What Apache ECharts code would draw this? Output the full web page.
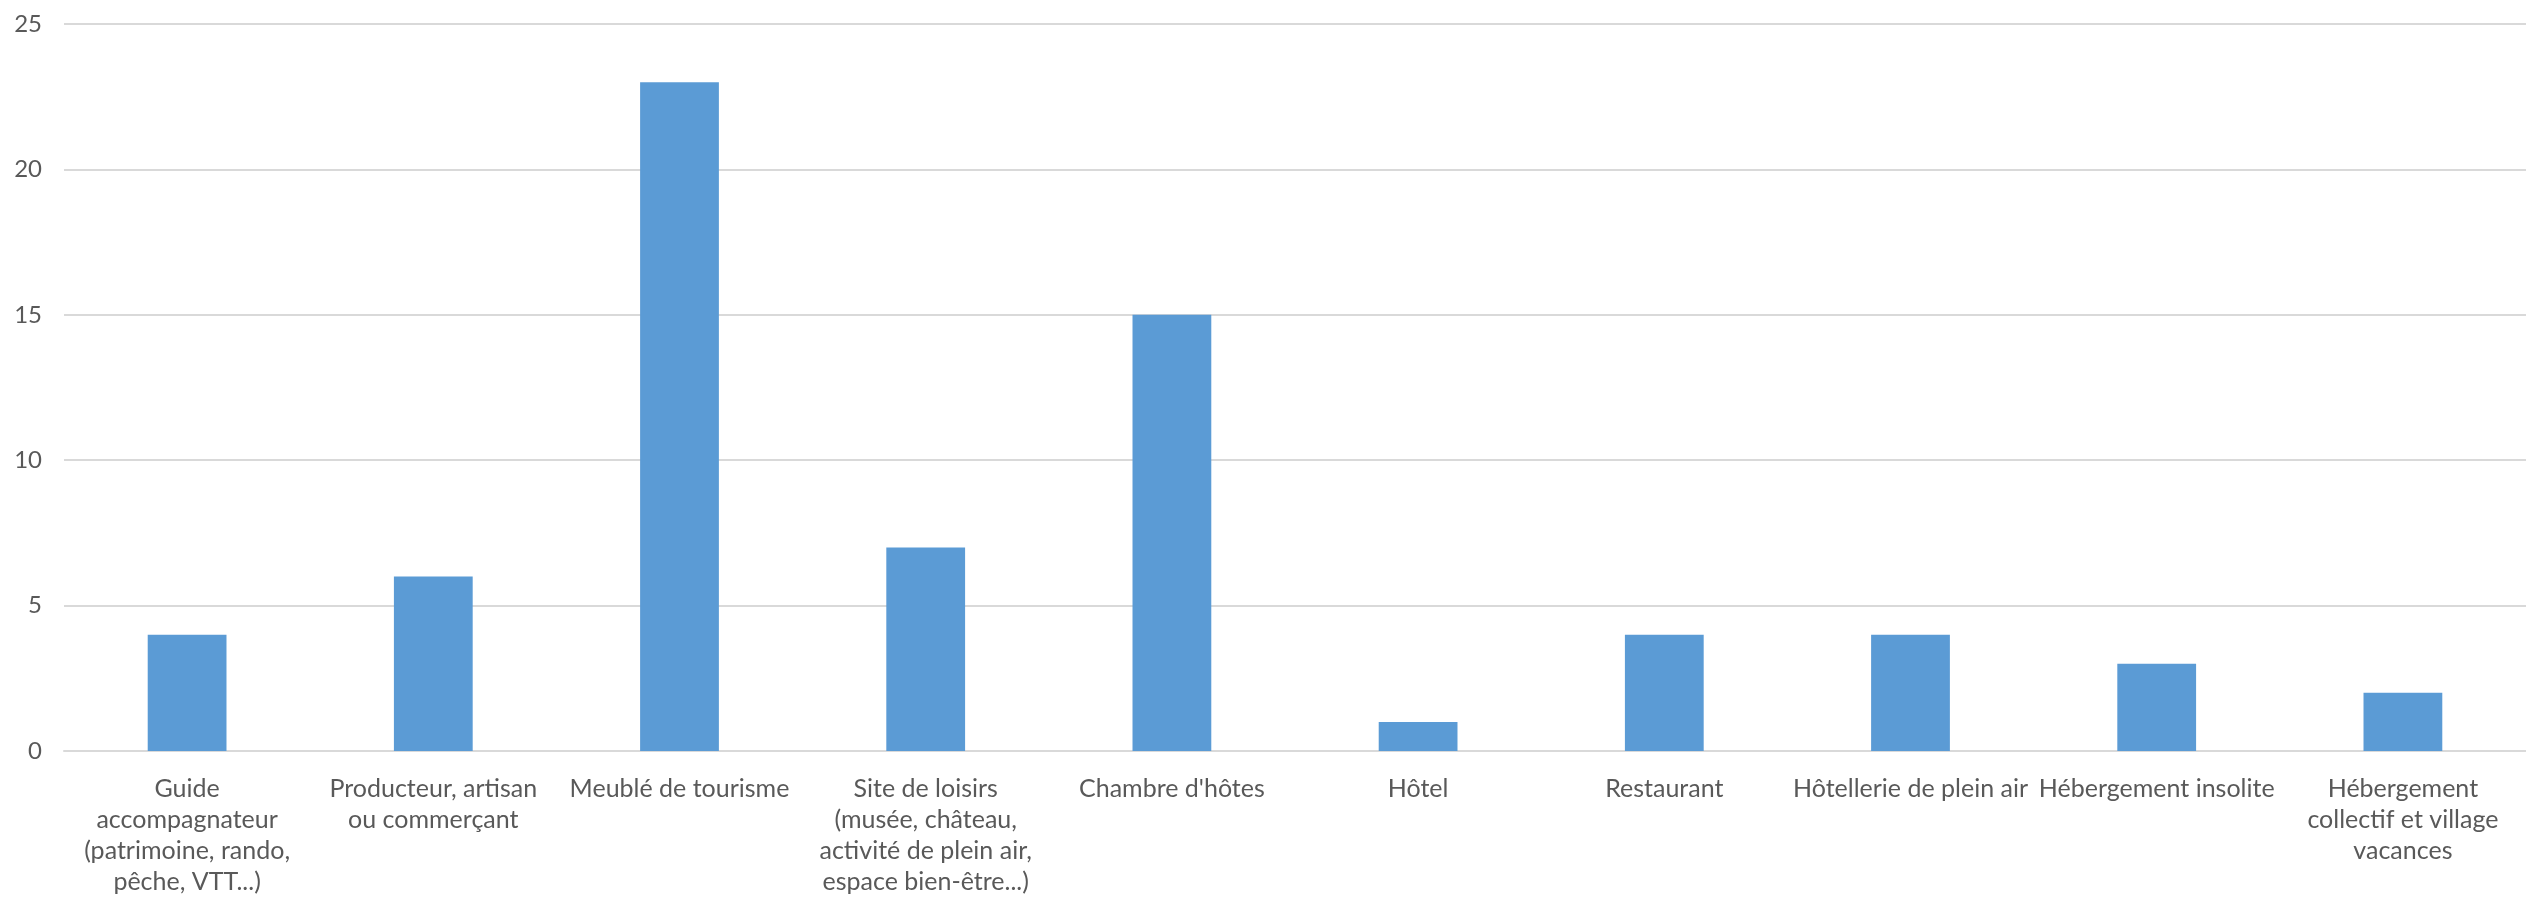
<!DOCTYPE html>
<html>
<head>
<meta charset="utf-8">
<script src="https://cdn.jsdelivr.net/npm/echarts@6/dist/echarts.min.js"></script>
<style>
html,body{margin:0;padding:0;background:#fff;overflow:hidden;}
#chart{width:2526px;height:905px;}
</style>
</head>
<body>
<div id="chart"></div>
<script>
const categories = [
  "Guide\naccompagnateur\n(patrimoine, rando,\npêche, VTT...)",
  "Producteur, artisan\nou commerçant",
  "Meublé de tourisme",
  "Site de loisirs\n(musée, château,\nactivité de plein air,\nespace bien-être...)",
  "Chambre d'hôtes",
  "Hôtel",
  "Restaurant",
  "Hôtellerie de plein air",
  "Hébergement insolite",
  "Hébergement\ncollectif et village\nvacances"
];
const values = [4, 6, 23, 7, 15, 1, 4, 4, 3, 2];
const yTicks = [0, 5, 10, 15, 20, 25];

const FONT = 'Lato';
const TEXT = '#595959';
const chart = echarts.init(document.getElementById('chart'));
chart.setOption({
  animation: false,
  grid: { left: 64, width: 2467, top: 24, bottom: 154, containLabel: false },
  xAxis: {
    type: 'category',
    data: categories,
    axisLine: { show: true, lineStyle: { color: '#d9d9d9', width: 2 } },
    axisTick: { show: false },
    axisLabel: {
      interval: 0,
      color: TEXT,
      fontFamily: FONT,
      fontSize: 25,
      lineHeight: 31,
      margin: 22,
      align: 'center'
    }
  },
  yAxis: {
    type: 'value',
    min: yTicks[0],
    max: yTicks[yTicks.length - 1],
    interval: 5,
    axisLine: { show: false },
    axisTick: { show: false },
    splitLine: { lineStyle: { color: '#d9d9d9', width: 2 } },
    axisLabel: { color: TEXT, fontFamily: FONT, fontSize: 24, margin: 22 }
  },
  series: [{
    type: 'bar',
    data: values,
    barWidth: '32%',
    itemStyle: { color: '#5b9bd5' }
  }]
});
</script>
</body>
</html>
